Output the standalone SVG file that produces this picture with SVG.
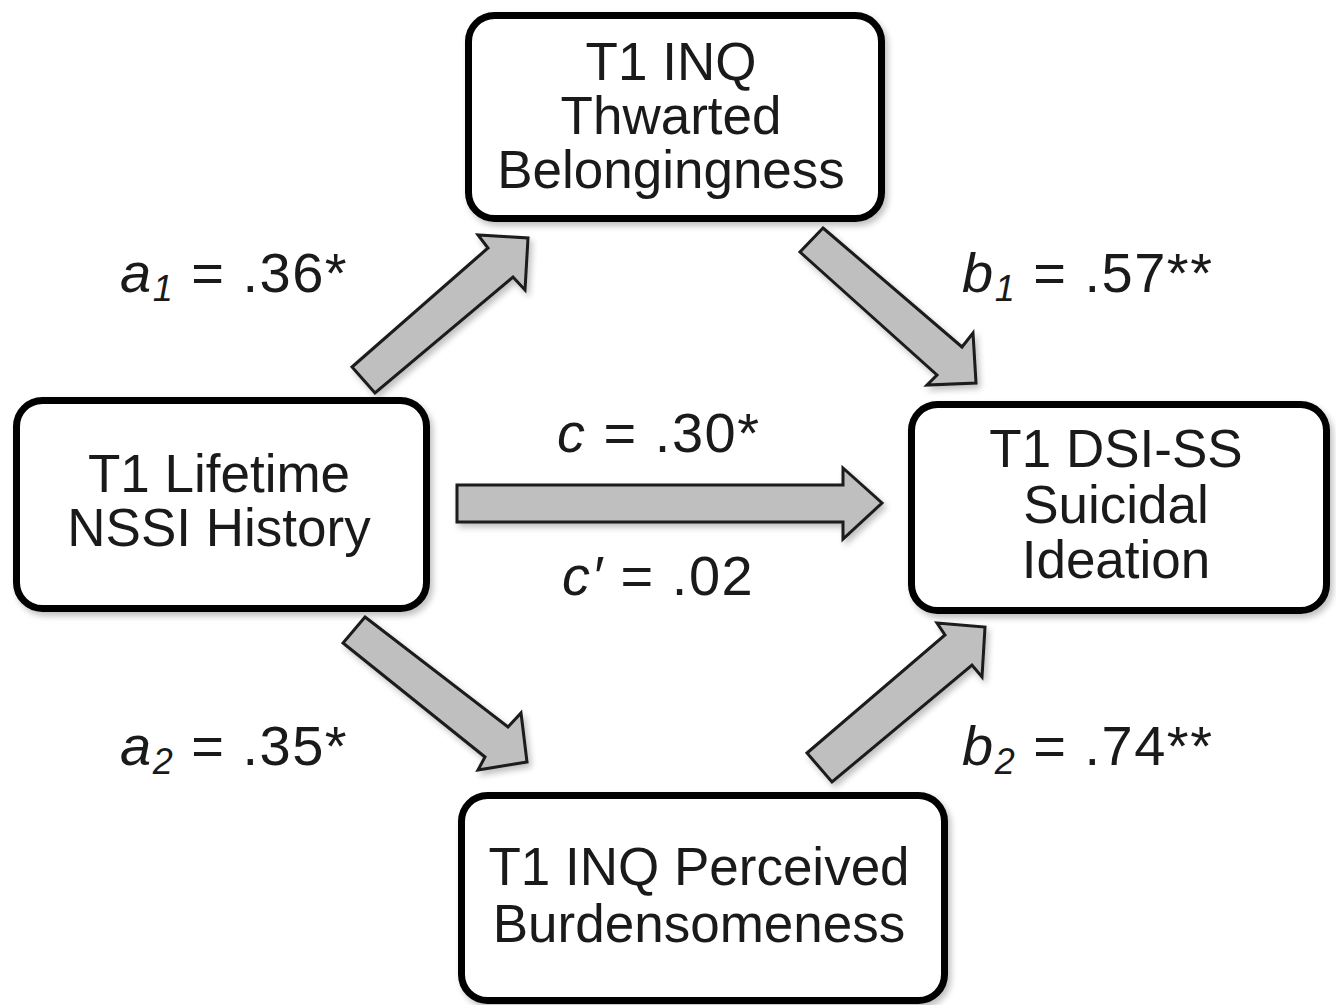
<svg xmlns="http://www.w3.org/2000/svg" width="1336" height="1005" viewBox="0 0 1336 1005">
<defs>
<filter id="sh" x="-10%" y="-10%" width="130%" height="130%">
<feGaussianBlur in="SourceAlpha" stdDeviation="3"/>
<feOffset dx="3" dy="4" result="b"/>
<feComponentTransfer><feFuncA type="linear" slope="0.25"/></feComponentTransfer>
<feMerge><feMergeNode/><feMergeNode in="SourceGraphic"/></feMerge>
</filter>
</defs>
<style>
.box{fill:#fff;stroke:#000;stroke-width:7}
.t{font-family:"Liberation Sans",Arial,sans-serif;font-size:53px;fill:#1a1a1a;text-anchor:middle}
.lab{font-family:"Liberation Sans",Arial,sans-serif;font-size:56px;letter-spacing:1.5px;fill:#1a1a1a}
.i{font-style:italic}
.arr{fill:#bfbfbf;stroke:#1a1a1a;stroke-width:3;stroke-linejoin:miter}
</style>
<rect width="1336" height="1005" fill="#fff"/>
<g id="connectors" filter="url(#sh)">
<polygon class="arr" points="352,367 488,248 478,235 528,238 525,290 513,277 375,393"/>
<polygon class="arr" points="823,228 962,347 973,333 976,383 927,385 937,375 800,252"/>
<polygon class="arr" points="457,485 843,485 843,468 882,503 843,539 843,522 457,522"/>
<polygon class="arr" points="365,617 508,727 521,713 527,762 478,770 485,757 343,643"/>
<polygon class="arr" points="807,753 945,635 937,623 985,627 982,677 972,665 832,782"/>
</g>
<g id="node-nssi">
<rect class="box" x="16.5" y="400.5" width="410" height="208" rx="26" filter="url(#sh)"/>
<text class="t" x="219" y="492">T1 Lifetime</text>
<text class="t" x="219" y="546">NSSI History</text>
</g>
<g id="node-tb">
<rect class="box" x="468.5" y="15.5" width="413" height="203" rx="26" filter="url(#sh)"/>
<text class="t" x="671" y="80">T1 INQ</text>
<text class="t" x="671" y="134">Thwarted</text>
<text class="t" x="671" y="188">Belongingness</text>
</g>
<g id="node-si">
<rect class="box" x="911.5" y="404.5" width="415" height="206" rx="26" filter="url(#sh)"/>
<text class="t" x="1116" y="467">T1 DSI-SS</text>
<text class="t" x="1116" y="523">Suicidal</text>
<text class="t" x="1116" y="578">Ideation</text>
</g>
<g id="node-pb">
<rect class="box" x="461.5" y="795.5" width="483" height="205" rx="26" filter="url(#sh)"/>
<text class="t" x="699" y="885">T1 INQ Perceived</text>
<text class="t" x="699" y="942">Burdensomeness</text>
</g>
<g id="labels">
<text class="lab" x="120" y="292"><tspan class="i">a</tspan><tspan class="i" font-size="36" dy="9">1</tspan><tspan dy="-9"> = .36*</tspan></text>
<text class="lab" x="962" y="292"><tspan class="i">b</tspan><tspan class="i" font-size="36" dy="9">1</tspan><tspan dy="-9"> = .57**</tspan></text>
<text class="lab" x="557" y="452"><tspan class="i">c</tspan> = .30*</text>
<text class="lab" x="562" y="595"><tspan class="i">c′</tspan> = .02</text>
<text class="lab" x="120" y="765"><tspan class="i">a</tspan><tspan class="i" font-size="36" dy="9">2</tspan><tspan dy="-9"> = .35*</tspan></text>
<text class="lab" x="962" y="765"><tspan class="i">b</tspan><tspan class="i" font-size="36" dy="9">2</tspan><tspan dy="-9"> = .74**</tspan></text>
</g>
</svg>
